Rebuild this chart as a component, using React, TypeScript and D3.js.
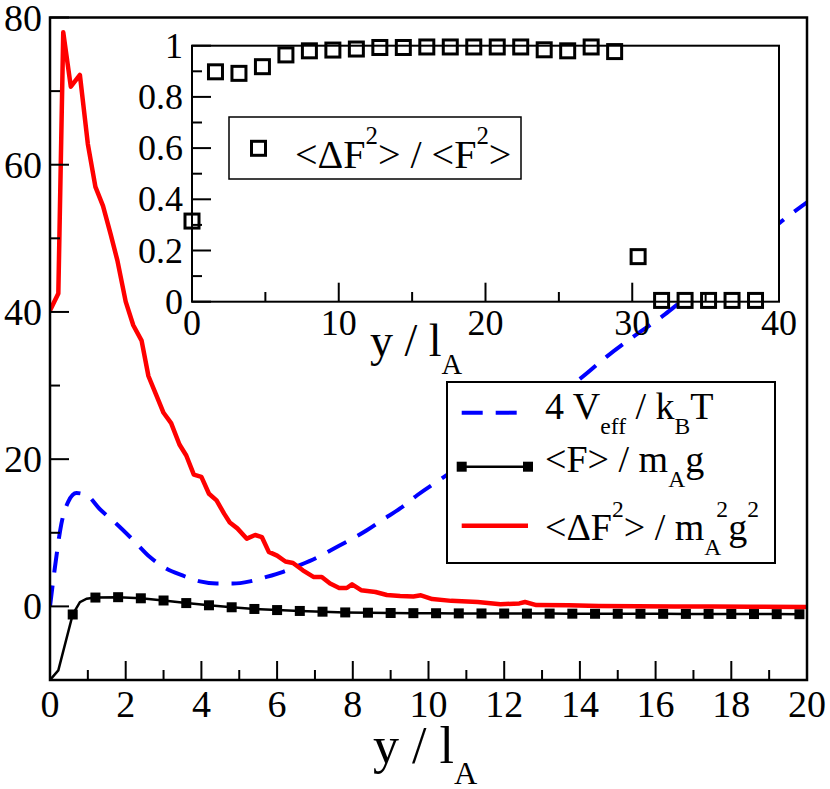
import React, { useRef, useEffect } from 'react';
import * as d3 from 'd3';

const WIDTH = 830;
const HEIGHT = 789;
const FONT = 'Liberation Serif, Tinos, Times New Roman, DejaVu Serif, serif';

// 4 V_eff / k_B T  (blue dashed)
const veff: [number, number][] = [
  [0, 0], [0.13, 5.3], [0.3, 11.2], [0.48, 14.2], [0.7, 15.4], [0.97, 15.1],
  [1.3, 13.3], [1.76, 11.2], [2.2, 9.0], [2.64, 6.7], [3.08, 5.1], [3.5, 4.2],
  [3.96, 3.4], [4.4, 3.1], [4.84, 3.1], [5.28, 3.4], [5.72, 4.0], [6.16, 4.7],
  [6.6, 5.6], [7.04, 6.6], [7.48, 7.8], [7.92, 9.0], [8.36, 10.3], [8.8, 11.8],
  [9.25, 13.3], [9.7, 15.1], [10.5, 17.9], [11.5, 21.6], [12.5, 25.4], [13.5, 29.1],
  [14.0, 30.9], [14.7, 33.9], [15.4, 36.6], [16.2, 39.5], [16.6, 41.1], [17.5, 44.6],
  [18.4, 48.3], [19.25, 52.0], [20.0, 54.9],
];

// <dF^2> / m_A^2 g^2  (red)
const fluct: [number, number][] = [
  [0, 40.2], [0.22, 42.5], [0.35, 78.0], [0.55, 70.6], [0.79, 72.2], [1.0, 62.8],
  [1.2, 57.0], [1.4, 54.4], [1.6, 50.6], [1.78, 47.0], [2.0, 41.4], [2.2, 38.2],
  [2.42, 36.1], [2.6, 31.3], [2.8, 28.8], [3.0, 26.3], [3.2, 24.9], [3.42, 22.0],
  [3.6, 20.5], [3.8, 17.9], [4.0, 17.6], [4.2, 15.3], [4.4, 14.4], [4.6, 12.6],
  [4.75, 11.4], [4.95, 10.6], [5.2, 9.2], [5.42, 9.7], [5.6, 9.4], [5.78, 7.4],
  [6.0, 6.9], [6.22, 6.1], [6.42, 5.9], [6.68, 4.9], [6.96, 4.0], [7.18, 4.0],
  [7.4, 3.1], [7.64, 2.5], [7.84, 2.5], [7.98, 3.0], [8.22, 2.2], [8.6, 1.95],
  [8.9, 1.55], [9.25, 1.4], [9.6, 1.35], [9.8, 1.5], [10.1, 1.0], [10.6, 0.75],
  [11.3, 0.6], [11.9, 0.3], [12.4, 0.4], [12.55, 0.6], [12.85, 0.18], [13.7, 0.15],
  [14.5, 0.05], [15.5, 0.02], [16.5, 0.0], [17.5, -0.02], [18.5, -0.05], [20.0, -0.1],
];

// <F> / m_A g  (black line, fine resolution near wall)
const forceLine: [number, number][] = [
  [0, -10], [0.22, -8.7], [0.6, -1.1], [0.79, 0.58], [0.97, 1.05],
];

// <F> / m_A g  (black square symbols)
const forceMarks: [number, number][] = [
  [0.6, -1.1], [1.2, 1.2], [1.8, 1.25], [2.4, 1.1], [3.0, 0.8], [3.6, 0.45],
  [4.2, 0.15], [4.8, -0.12], [5.4, -0.35], [6.0, -0.5], [6.6, -0.62], [7.2, -0.72],
  [7.8, -0.82], [8.4, -0.86], [9.0, -0.9], [9.6, -0.92], [10.2, -0.93], [10.8, -0.95],
  [11.4, -0.96], [12.0, -0.97], [12.6, -0.98], [13.2, -0.98], [13.8, -0.99], [14.4, -1.0],
  [15.0, -1.0], [15.6, -1.0], [16.2, -1.01], [16.8, -1.02], [17.4, -1.02], [18.0, -1.03],
  [18.6, -1.04], [19.2, -1.05], [19.8, -1.06],
];

// inset: <dF^2> / <F^2>
const ratio: [number, number][] = [
  [0, 0.315], [1.6, 0.898], [3.2, 0.892], [4.8, 0.918], [6.4, 0.964], [8.0, 0.98],
  [9.6, 0.983], [11.2, 0.987], [12.8, 0.993], [14.4, 0.993], [16.0, 0.995], [17.6, 0.995],
  [19.2, 0.995], [20.8, 0.995], [22.4, 0.995], [24.0, 0.984], [25.6, 0.98], [27.2, 0.995],
  [28.8, 0.977], [30.4, 0.176], [32.0, 0.005], [33.6, 0.005], [35.2, 0.005], [36.8, 0.005],
  [38.4, 0.005],
];

const mainXMajor = [0, 2, 4, 6, 8, 10, 12, 14, 16, 18, 20];
const mainXMinor = [1, 3, 5, 7, 9, 11, 13, 15, 17, 19];
const mainYMajor = [0, 20, 40, 60, 80];
const mainYMinor = [-10, 10, 30, 50, 70];
const insetXMajor = [0, 10, 20, 30, 40];
const insetXMinor = [5, 15, 25, 35];
const insetYMajor = [0, 0.2, 0.4, 0.6, 0.8, 1];
const insetYMinor = [0.1, 0.3, 0.5, 0.7, 0.9];

type Part = { t: string; sub?: boolean; sup?: boolean; dx?: number };

function richText(
  g: d3.Selection<SVGGElement, unknown, null, undefined>,
  x: number,
  y: number,
  parts: Part[],
  size: number
) {
  const text = g.append('text')
    .attr('x', x)
    .attr('y', y)
    .style('font-family', FONT)
    .style('font-size', `${size}px`)
    .attr('fill', '#000');
  let offset = 0;
  parts.forEach(p => {
    const target = p.sub ? size * 0.4 : p.sup ? -size * 0.6 : 0;
    const span = text.append('tspan')
      .attr('dy', target - offset)
      .style('font-size', `${p.sub || p.sup ? size * 0.62 : size}px`)
      .text(p.t);
    if (p.dx) span.attr('dx', p.dx);
    offset = target;
  });
  return text;
}

const App: React.FC = () => {
  const svgRef = useRef<SVGSVGElement>(null);

  useEffect(() => {
    const svg = d3.select(svgRef.current);
    svg.selectAll('*').remove();

    const x = d3.scaleLinear().domain([0, 20]).range([50, 807]);
    const y = d3.scaleLinear().domain([-10, 80]).range([680, 17.5]);
    const ix = d3.scaleLinear().domain([0, 40]).range([192, 779]);
    const iy = d3.scaleLinear().domain([0, 1]).range([301.7, 45.7]);

    svg.append('rect').attr('width', WIDTH).attr('height', HEIGHT).attr('fill', '#fff');

    svg.append('defs').append('clipPath').attr('id', 'main-clip')
      .append('rect')
      .attr('x', 50).attr('y', 17.5)
      .attr('width', 757).attr('height', 662.5);

    const g = svg.append('g');
    const plot = g.append('g').attr('clip-path', 'url(#main-clip)');

    const line = d3.line<[number, number]>()
      .x(d => x(d[0]))
      .y(d => y(d[1]));

    // Blue dashed effective potential
    plot.append('path')
      .datum(veff)
      .attr('fill', 'none')
      .attr('stroke', '#0000ff')
      .attr('stroke-width', 4)
      .attr('stroke-dasharray', '21,13')
      .attr('d', line.curve(d3.curveMonotoneX));

    // Black mean force
    const forceAll = [...forceLine, ...forceMarks.slice(1)];
    plot.append('path')
      .datum(forceAll)
      .attr('fill', 'none')
      .attr('stroke', '#000')
      .attr('stroke-width', 2.5)
      .attr('d', line.curve(d3.curveLinear));

    plot.selectAll('.fmark')
      .data(forceMarks)
      .enter()
      .append('rect')
      .attr('class', 'fmark')
      .attr('x', d => x(d[0]) - 5)
      .attr('y', d => y(d[1]) - 5)
      .attr('width', 10)
      .attr('height', 10)
      .attr('fill', '#000');

    // Red fluctuations
    plot.append('path')
      .datum(fluct)
      .attr('fill', 'none')
      .attr('stroke', '#ff0000')
      .attr('stroke-width', 4.5)
      .attr('stroke-linejoin', 'round')
      .attr('d', line.curve(d3.curveLinear));

    // Main frame
    g.append('rect')
      .attr('x', 50).attr('y', 17.5)
      .attr('width', 757).attr('height', 662.5)
      .attr('fill', 'none')
      .attr('stroke', '#000')
      .attr('stroke-width', 2.5);

    // Main ticks
    const tickG = g.append('g').attr('stroke', '#000').attr('stroke-width', 2);
    mainXMajor.forEach(v => tickG.append('line')
      .attr('x1', x(v)).attr('x2', x(v)).attr('y1', 680).attr('y2', 661));
    mainXMinor.forEach(v => tickG.append('line')
      .attr('x1', x(v)).attr('x2', x(v)).attr('y1', 680).attr('y2', 670));
    mainYMajor.forEach(v => tickG.append('line')
      .attr('x1', 50).attr('x2', 69).attr('y1', y(v)).attr('y2', y(v)));
    mainYMinor.forEach(v => tickG.append('line')
      .attr('x1', 50).attr('x2', 60).attr('y1', y(v)).attr('y2', y(v)));

    mainXMajor.forEach(v => g.append('text')
      .attr('x', x(v)).attr('y', 717)
      .attr('text-anchor', 'middle')
      .style('font-family', FONT).style('font-size', '38px')
      .text(String(v)));
    mainYMajor.forEach(v => g.append('text')
      .attr('x', 42).attr('y', y(v) + 13)
      .attr('text-anchor', 'end')
      .style('font-family', FONT).style('font-size', '38px')
      .text(String(v)));

    richText(g, 373, 763, [{ t: 'y / l' }, { t: 'A', sub: true }], 52);

    // Main legend
    const leg = g.append('g');
    leg.append('rect')
      .attr('x', 447).attr('y', 382)
      .attr('width', 328).attr('height', 181)
      .attr('fill', '#fff')
      .attr('stroke', '#000')
      .attr('stroke-width', 2);
    leg.append('line')
      .attr('x1', 461.7).attr('x2', 518).attr('y1', 412.7).attr('y2', 412.7)
      .attr('stroke', '#0000ff').attr('stroke-width', 4)
      .attr('stroke-dasharray', '21,13');
    richText(leg, 545, 419, [
      { t: '4 V' }, { t: 'eff', sub: true }, { t: ' / k' }, { t: 'B', sub: true }, { t: 'T' },
    ], 38);
    leg.append('line')
      .attr('x1', 461.7).attr('x2', 528).attr('y1', 466.7).attr('y2', 466.7)
      .attr('stroke', '#000').attr('stroke-width', 2.5);
    [461.7, 528].forEach(px => leg.append('rect')
      .attr('x', px - 5).attr('y', 461.7).attr('width', 10).attr('height', 10)
      .attr('fill', '#000'));
    richText(leg, 545, 472, [
      { t: '<F> / m' }, { t: 'A', sub: true }, { t: 'g' },
    ], 38);
    leg.append('line')
      .attr('x1', 461.7).attr('x2', 528).attr('y1', 525.7).attr('y2', 525.7)
      .attr('stroke', '#ff0000').attr('stroke-width', 4.5);
    richText(leg, 545, 540, [
      { t: '<ΔF' }, { t: '2', sup: true }, { t: '> / m' }, { t: 'A', sub: true },
      { t: '2', sup: true, dx: -5 }, { t: 'g' }, { t: '2', sup: true },
    ], 38);

    // Inset
    const ins = g.append('g');
    ins.append('rect')
      .attr('x', 192).attr('y', 45.7)
      .attr('width', 587).attr('height', 256)
      .attr('fill', '#fff')
      .attr('stroke', '#000')
      .attr('stroke-width', 2);

    const iTicks = ins.append('g').attr('stroke', '#000').attr('stroke-width', 2);
    insetXMajor.forEach(v => iTicks.append('line')
      .attr('x1', ix(v)).attr('x2', ix(v)).attr('y1', 301.7).attr('y2', 282.7));
    insetXMinor.forEach(v => iTicks.append('line')
      .attr('x1', ix(v)).attr('x2', ix(v)).attr('y1', 301.7).attr('y2', 292));
    insetYMajor.forEach(v => iTicks.append('line')
      .attr('x1', 192).attr('x2', 211).attr('y1', iy(v)).attr('y2', iy(v)));
    insetYMinor.forEach(v => iTicks.append('line')
      .attr('x1', 192).attr('x2', 202).attr('y1', iy(v)).attr('y2', iy(v)));

    insetXMajor.forEach(v => ins.append('text')
      .attr('x', ix(v)).attr('y', 335)
      .attr('text-anchor', 'middle')
      .style('font-family', FONT).style('font-size', '36px')
      .text(String(v)));
    insetYMajor.forEach(v => ins.append('text')
      .attr('x', 183).attr('y', iy(v) + 12)
      .attr('text-anchor', 'end')
      .style('font-family', FONT).style('font-size', '36px')
      .text(String(v)));

    richText(ins, 370, 356, [{ t: 'y / l' }, { t: 'A', sub: true }], 46);

    ins.selectAll('.rmark')
      .data(ratio)
      .enter()
      .append('rect')
      .attr('class', 'rmark')
      .attr('x', d => ix(d[0]) - 7)
      .attr('y', d => iy(d[1]) - 7)
      .attr('width', 14)
      .attr('height', 14)
      .attr('fill', 'none')
      .attr('stroke', '#000')
      .attr('stroke-width', 3);

    // Inset legend
    ins.append('rect')
      .attr('x', 229).attr('y', 117)
      .attr('width', 292).attr('height', 62)
      .attr('fill', '#fff')
      .attr('stroke', '#000')
      .attr('stroke-width', 1.5);
    ins.append('rect')
      .attr('x', 251.5).attr('y', 141.3).attr('width', 14).attr('height', 14)
      .attr('fill', 'none').attr('stroke', '#000').attr('stroke-width', 3);
    richText(ins, 295, 168, [
      { t: '<ΔF' }, { t: '2', sup: true }, { t: '> / <F' }, { t: '2', sup: true }, { t: '>' },
    ], 40);
  }, []);

  return (
    <div style={{ position: 'absolute', left: 0, top: 0 }}>
      <svg ref={svgRef} width={WIDTH} height={HEIGHT} viewBox={`0 0 ${WIDTH} ${HEIGHT}`} />
    </div>
  );
};

export default App;
